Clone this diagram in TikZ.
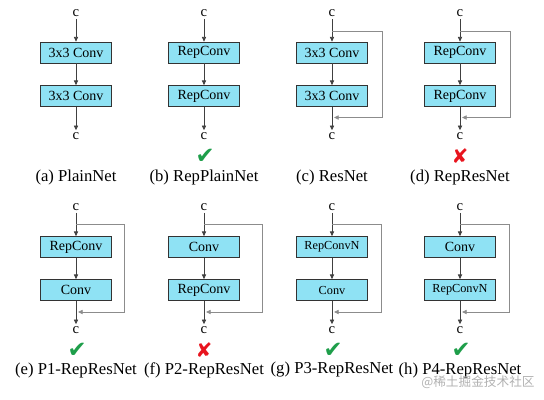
\documentclass[tikz,border=0pt]{standalone}
\usepackage{fontspec}
\setmainfont{Liberation Serif}
\newfontfamily\symfont{DejaVu Sans}
\newfontfamily\cjkfont{Noto Sans CJK SC}
\usetikzlibrary{arrows.meta}
\definecolor{boxfill}{HTML}{8FE2F4}
\definecolor{okgreen}{HTML}{1E9E4A}
\definecolor{badred}{HTML}{E8141E}
\begin{document}
\begin{tikzpicture}[x=0.75pt,y=-0.75pt,
  conv/.style={draw=black!80, fill=boxfill, minimum width=53.25pt, minimum height=15.75pt, inner sep=0pt, line width=0.6pt, font=\fontsize{10.5}{12}\selectfont},
  convs/.style={conv, font=\fontsize{9.2}{11}\selectfont},
  io/.style={inner sep=1.5pt, font=\fontsize{11}{12}\selectfont},
  flow/.style={draw=black!75, line width=0.6pt, -{Triangle[length=3.5pt,width=3.2pt]}},
  skipline/.style={draw=black!45, line width=0.6pt, -{Triangle[length=3.5pt,width=3.2pt]}},
  caption/.style={inner sep=0pt, font=\fontsize{12.5}{14}\selectfont},
  good/.style={inner sep=0pt, text=okgreen, font=\symfont\fontsize{17}{17}\selectfont},
  bad/.style={inner sep=0pt, text=badred, font=\symfont\fontsize{15}{15}\selectfont}]
\useasboundingbox (0,0) rectangle (544,400);

% ---------- (a) PlainNet ----------
\node[io] (ain) at (76,13) {c};
\node[conv] (a1) at (76,52.5) {3x3 Conv};
\node[conv] (a2) at (76,96) {3x3 Conv};
\node[io] (aout) at (76,136) {c};
\node[caption] (acap) at (76,177) {(a) PlainNet};
\draw[flow] (ain) -- (a1);
\draw[flow] (a1) -- (a2);
\draw[flow] (a2) -- (aout);

% ---------- (b) RepPlainNet ----------
\node[io] (bin) at (204,13) {c};
\node[conv] (b1) at (204,52.5) {RepConv};
\node[conv] (b2) at (204,96) {RepConv};
\node[io] (bout) at (204,136) {c};
\node[good] (bmark) at (205,156) {✔};
\node[caption] (bcap) at (204,177) {(b) RepPlainNet};
\draw[flow] (bin) -- (b1);
\draw[flow] (b1) -- (b2);
\draw[flow] (b2) -- (bout);

% ---------- (c) ResNet ----------
\node[io] (cin) at (332,13) {c};
\node[conv] (c1) at (332,52.5) {3x3 Conv};
\node[conv] (c2) at (332,96) {3x3 Conv};
\node[io] (cout) at (332,136) {c};
\node[caption] (ccap) at (332,177) {(c) ResNet};
\coordinate (cs) at (332,31);
\coordinate (cs1) at (382,31);
\coordinate (cs2) at (382,117.5);
\coordinate (cj) at (334,117.5);
\draw[flow] (cin) -- (c1);
\draw[flow] (c1) -- (c2);
\draw[flow] (c2) -- (cout);
\draw[skipline] (cs) -- (cs1) -- (cs2) -- (cj);

% ---------- (d) RepResNet ----------
\node[io] (din) at (460,13) {c};
\node[conv] (d1) at (460,52.5) {RepConv};
\node[conv] (d2) at (460,96) {RepConv};
\node[io] (dout) at (460,136) {c};
\node[bad] (dmark) at (460,156) {✘};
\node[caption] (dcap) at (460,177) {(d) RepResNet};
\coordinate (ds) at (460,31);
\coordinate (ds1) at (510,31);
\coordinate (ds2) at (510,117.5);
\coordinate (dj) at (462,117.5);
\draw[flow] (din) -- (d1);
\draw[flow] (d1) -- (d2);
\draw[flow] (d2) -- (dout);
\draw[skipline] (ds) -- (ds1) -- (ds2) -- (dj);

% ---------- (e) P1-RepResNet ----------
\node[io] (ein) at (76,207) {c};
\node[conv] (e1) at (76,247) {RepConv};
\node[conv] (e2) at (76,290) {Conv};
\node[io] (eout) at (76,330) {c};
\node[good] (emark) at (77,350) {✔};
\node[caption] (ecap) at (76,370) {(e) P1-RepResNet};
\coordinate (es) at (76,224);
\coordinate (es1) at (124,224);
\coordinate (es2) at (124,312);
\coordinate (ej) at (78,312);
\draw[flow] (ein) -- (e1);
\draw[flow] (e1) -- (e2);
\draw[flow] (e2) -- (eout);
\draw[skipline] (es) -- (es1) -- (es2) -- (ej);

% ---------- (f) P2-RepResNet ----------
\node[io] (fin) at (204,207) {c};
\node[conv] (f1) at (204,247) {Conv};
\node[conv] (f2) at (204,290) {RepConv};
\node[io] (fout) at (204,330) {c};
\node[bad] (fmark) at (204,350) {✘};
\node[caption] (fcap) at (204,370) {(f) P2-RepResNet};
\coordinate (fs) at (204,224);
\coordinate (fs1) at (262,224);
\coordinate (fs2) at (262,312);
\coordinate (fj) at (206,312);
\draw[flow] (fin) -- (f1);
\draw[flow] (f1) -- (f2);
\draw[flow] (f2) -- (fout);
\draw[skipline] (fs) -- (fs1) -- (fs2) -- (fj);

% ---------- (g) P3-RepResNet ----------
\node[io] (gin) at (332,207) {c};
\node[convs] (g1) at (332,247) {RepConvN};
\node[convs] (g2) at (332,290) {Conv};
\node[io] (gout) at (332,330) {c};
\node[good] (gmark) at (333,350) {✔};
\node[caption] (gcap) at (332,370) {(g) P3-RepResNet};
\coordinate (gs) at (332,224);
\coordinate (gs1) at (381,224);
\coordinate (gs2) at (381,312);
\coordinate (gj) at (334,312);
\draw[flow] (gin) -- (g1);
\draw[flow] (g1) -- (g2);
\draw[flow] (g2) -- (gout);
\draw[skipline] (gs) -- (gs1) -- (gs2) -- (gj);

% ---------- (h) P4-RepResNet ----------
\node[io] (hin) at (460,207) {c};
\node[conv] (h1) at (460,247) {Conv};
\node[convs] (h2) at (460,290) {RepConvN};
\node[io] (hout) at (460,330) {c};
\node[good] (hmark) at (461,350) {✔};
\node[caption] (hcap) at (460,370) {(h) P4-RepResNet};
\coordinate (hs) at (460,224);
\coordinate (hs1) at (509,224);
\coordinate (hs2) at (509,312);
\coordinate (hj) at (462,312);
\draw[flow] (hin) -- (h1);
\draw[flow] (h1) -- (h2);
\draw[flow] (h2) -- (hout);
\draw[skipline] (hs) -- (hs1) -- (hs2) -- (hj);

% watermark
\node[inner sep=0pt, text=black!30, font=\cjkfont\fontsize{9.5}{10}\selectfont] (wm) at (478,382) {@稀土掘金技术社区};
\end{tikzpicture}
\end{document}
